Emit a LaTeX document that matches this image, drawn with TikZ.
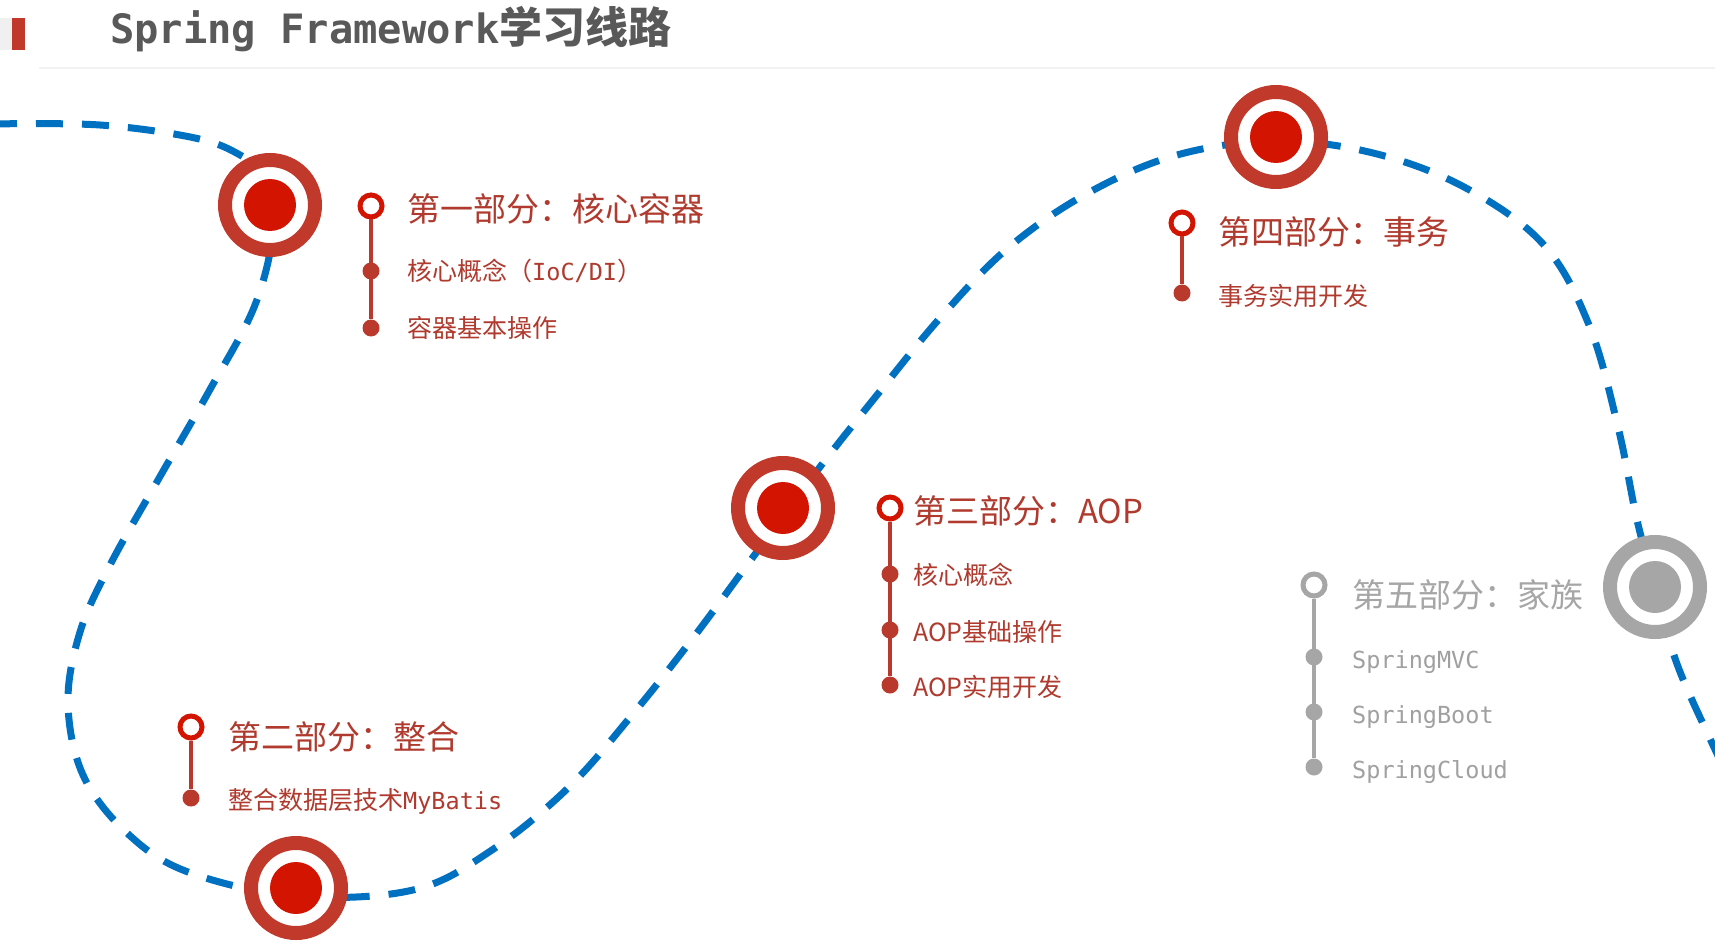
\documentclass[tikz,border=0pt]{standalone}
\usepackage{fontspec}
\setmainfont{Noto Sans CJK SC}
\newfontfamily\codefont[Scale=0.94]{DejaVu Sans Mono}
\newcommand{\codetxt}[1]{{\codefont #1}}
\definecolor{routeblue}{RGB}{0,112,192}
\definecolor{ringred}{RGB}{192,57,43}
\definecolor{dotred}{RGB}{210,20,0}
\definecolor{stemred}{RGB}{185,58,45}
\definecolor{textred}{RGB}{176,58,46}
\definecolor{ringgray}{RGB}{166,166,166}
\definecolor{textgray}{RGB}{160,160,160}
\definecolor{titlegray}{RGB}{89,89,89}

\begin{document}
\begin{tikzpicture}[x=1pt, y=-1pt,
  route/.style={routeblue, line width=7pt, dash pattern=on 27pt off 19pt},
  stop/.style={circle, draw=ringred, line width=14pt, fill=white, minimum size=90pt, inner sep=0pt},
  head/.style={circle, draw=dotred, line width=5pt, fill=white, minimum size=22pt, inner sep=0pt},
  knob/.style={circle, fill=stemred, minimum size=17pt, inner sep=0pt},
  stem/.style={stemred, line width=4.5pt},
  part/.style={anchor=west, inner sep=0pt, text=textred, font=\fontsize{33}{38}\selectfont, text height=28pt, text depth=3pt},
  item/.style={anchor=west, inner sep=0pt, text=textred, font=\fontsize{25}{30}\selectfont, text height=21pt, text depth=2.5pt},
  faded/.style={draw=ringgray, fill=white, text=textgray}]
\useasboundingbox (0,0) rectangle (1715,941);
\fill[white] (0,0) rectangle (1715,941);
% header
\fill[black!6] (0,18) rectangle (12,50);
\fill[ringred] (12,18) rectangle (25,50);
\draw[black!5, line width=1.5pt] (39,68) -- (1715,68);
\node[anchor=base west, inner sep=0pt, text=titlegray, font=\bfseries\fontsize{43}{50}\selectfont] (title) at (110,44) {\codetxt{Spring Framework}学习线路};
% the dashed route
\draw[route] plot[smooth, tension=0.6] coordinates {(-10,124) (100,125) (195,138) (240,155) (266,178) (274,225) (255,305) (208,393) (158,480) (110,565) (80,632) (68,703) (83,775) (127,833) (188,872) (296,896) (413,890) (492,850) (568,788) (632,715) (693,638) (753,557) (790,508) (823,463) (877,395) (940,318) (1008,248) (1088,193) (1177,155) (1276,141) (1373,153) (1464,187) (1543,244) (1589,325) (1618,427) (1637,520) (1655,587) (1677,664) (1712,743) (1730,780)};
% stops
\node[stop] (s1) at (270,205) {};
\node[stop] (s2) at (296,888) {};
\node[stop] (s3) at (783,508) {};
\node[stop] (s4) at (1276,137) {};
\node[stop, draw=ringgray] (s5) at (1655,587) {};
\fill[dotred] (s1) circle (26pt) (s2) circle (26pt) (s3) circle (26pt) (s4) circle (26pt);
\fill[ringgray] (s5) circle (26pt);
% part 1
\node[head] (h1) at (371,206) {};
\node[knob] (k11) at (371,271) {};
\node[knob] (k12) at (371,328) {};
\draw[stem] (h1) -- (k12);
\node[part] (t1) at (407,209) {第一部分：核心容器};
\node[item] (i11) at (407,271) {核心概念（\codetxt{IoC/DI}）};
\node[item] (i12) at (407,328) {容器基本操作};
% part 2
\node[head] (h2) at (191,727) {};
\node[knob] (k21) at (191,798) {};
\draw[stem] (h2) -- (k21);
\node[part] (t2) at (228,737) {第二部分：整合};
\node[item] (i21) at (228,800) {整合数据层技术\codetxt{MyBatis}};
% part 3
\node[head] (h3) at (890,508) {};
\node[knob] (k31) at (890,574) {};
\node[knob] (k32) at (890,630) {};
\node[knob] (k33) at (890,685) {};
\draw[stem] (h3) -- (k33);
\node[part] (t3) at (913,511) {第三部分：AOP};
\node[item] (i31) at (913,575) {核心概念};
\node[item] (i32) at (913,632) {AOP基础操作};
\node[item] (i33) at (913,687) {AOP实用开发};
% part 4
\node[head] (h4) at (1182,223) {};
\node[knob] (k41) at (1182,293) {};
\draw[stem] (h4) -- (k41);
\node[part] (t4) at (1218,232) {第四部分：事务};
\node[item] (i41) at (1218,296) {事务实用开发};
% part 5
\node[head, faded] (h5) at (1314,585) {};
\node[knob, fill=ringgray] (k51) at (1314,657) {};
\node[knob, fill=ringgray] (k52) at (1314,712) {};
\node[knob, fill=ringgray] (k53) at (1314,767) {};
\draw[stem, ringgray] (h5) -- (k53);
\node[part, text=ringgray] (t5) at (1352,595) {第五部分：家族};
\node[item, text=textgray] (i51) at (1352,659) {\codetxt{SpringMVC}};
\node[item, text=textgray] (i52) at (1352,714) {\codetxt{SpringBoot}};
\node[item, text=textgray] (i53) at (1352,769) {\codetxt{SpringCloud}};
\end{tikzpicture}
\end{document}
